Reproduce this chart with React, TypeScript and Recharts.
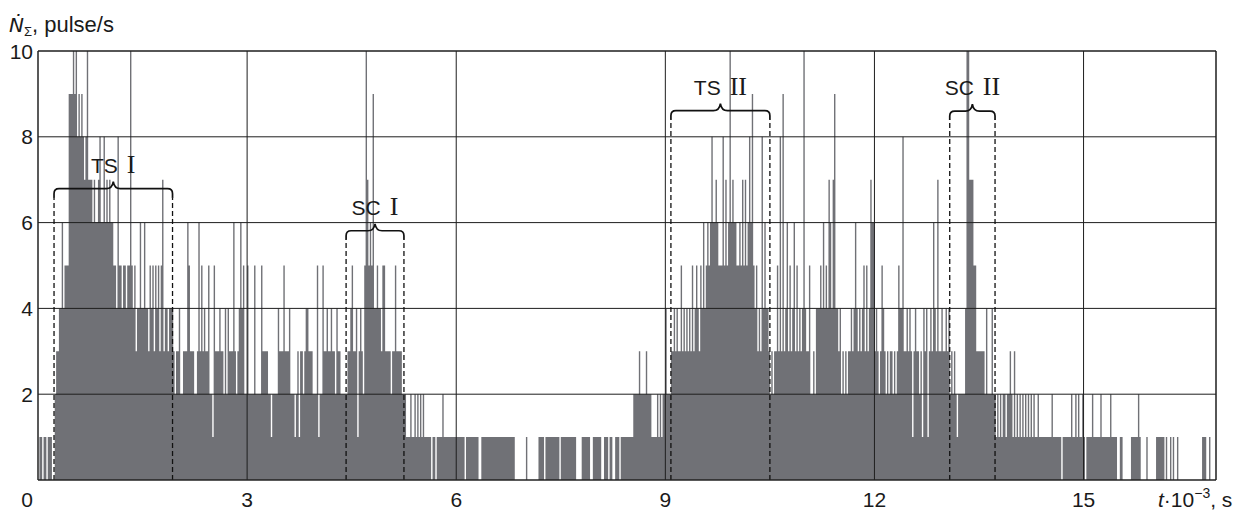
import React from "react";
import { AreaChart, Area, XAxis, YAxis, ReferenceLine } from "recharts";

// pulse counts, one value per 20 s bin (x axis is in units of 10^3 s)
const BIN = 0.02;
const T_END = 16.9;

const xTicks = [0, 3, 6, 9, 12, 15];
const yTicks = [2, 4, 6, 8, 10];

const seg00 = [0,1,1,0,1,1,0,1,1,1, 0,0,2,3,3,4,4,6,4,5, 5,5,9,9,9,10,9,10,8,9, 8,9,8,7,8,10,7,7,7,6, 7,6,6,7,8,6,6,8,6,7];
const seg01 = [6,7,6,6,5,5,4,8,5,5, 4,5,5,4,5,5,10,5,4,5, 3,4,4,6,4,4,6,4,4,3, 5,4,5,3,5,4,5,3,5,7, 3,4,4,3,4,4,4,3,2,3];
const seg02 = [3,4,2,2,3,3,3,6,5,3, 3,3,2,2,3,6,3,5,3,4, 3,3,5,2,2,1,5,3,3,3, 4,3,3,2,4,2,4,3,3,3, 6,3,2,3,4,6,4,5,2,2];
const seg03 = [5,2,2,2,2,5,2,2,2,2, 5,3,3,3,3,2,2,1,2,2, 2,2,4,3,3,3,5,3,3,3, 4,2,2,2,1,2,3,1,3,3, 2,3,4,4,3,3,3,2,2,2];
const seg04 = [5,1,2,2,5,3,3,4,3,3, 4,3,3,2,4,3,3,2,2,2, 2,2,3,3,4,5,3,3,4,1, 3,4,3,2,5,10,7,5,6,5, 9,4,4,5,4,4,3,5,5,3];
const seg05 = [3,3,3,2,3,3,5,3,3,3, 3,2,2,2,1,1,1,2,1,1, 2,1,2,1,2,1,2,1,1,1, 1,1,0,1,1,0,1,1,1,1, 2,1,1,1,1,1,1,1,1,1];
const seg06 = [1,1,1,1,1,1,0,1,1,1, 1,1,1,1,1,1,0,0,1,1, 1,1,1,1,1,1,1,1,1,1, 1,1,1,1,1,1,1,1,1,1, 1,1,0,0,0,0,0,0,0,0];
const seg07 = [1,0,0,0,0,0,0,0,0,1, 1,1,1,0,1,1,1,1,1,1, 1,1,1,1,0,1,1,1,1,1, 1,1,1,1,1,1,0,0,0,0, 1,1,1,1,1,1,0,0,1,1];
const seg08 = [1,1,1,1,0,0,1,1,1,0, 1,1,0,0,1,1,1,0,1,1, 1,1,1,1,1,1,1,2,2,2, 2,3,2,2,2,2,3,2,2,2, 1,1,1,1,2,1,2,1,2,2];
const seg09 = [4,2,2,2,3,3,4,3,4,3, 3,5,3,4,3,4,3,4,3,5, 3,4,5,4,3,5,4,6,4,5, 6,5,6,8,6,6,7,6,5,5, 5,8,5,7,5,6,10,6,7,6];
const seg10 = [6,5,5,6,5,7,5,7,5,6, 8,6,9,5,4,5,3,4,3,8, 4,6,4,4,3,2,3,2,3,3, 5,3,8,3,9,3,4,6,3,5, 3,4,6,3,5,3,4,3,4,10];
const seg11 = [4,3,3,5,2,2,3,2,4,4, 4,5,4,6,4,5,4,7,6,4, 7,9,4,4,3,4,2,3,2,3, 2,3,3,4,3,4,6,4,3,4, 3,4,5,3,5,3,4,7,6,6];
const seg12 = [3,4,3,2,3,5,4,3,2,3, 2,3,3,2,3,2,3,5,4,4, 8,3,3,4,3,4,3,1,3,4, 3,3,2,3,1,4,3,4,1,3, 4,3,6,4,3,7,3,3,4,3];
const seg13 = [3,4,3,4,2,3,2,3,2,1, 2,2,2,2,2,4,10,10,7,7, 7,5,5,3,3,3,3,3,3,2, 4,2,2,2,4,2,2,1,2,1, 2,1,2,2,1,2,2,3,2,1];
const seg14 = [3,1,2,1,2,1,2,1,2,1, 2,1,2,1,2,1,1,2,1,1, 1,1,1,1,1,1,1,2,1,1, 1,1,1,1,0,1,1,1,1,1, 1,2,1,1,2,1,2,1,1,2];
const seg15 = [1,0,1,1,1,1,2,1,1,1, 1,1,2,1,1,1,1,1,1,2, 1,1,1,1,0,0,1,1,0,0, 0,0,0,0,1,1,1,1,1,2, 1,0,0,0,0,1,0,0,0,0];
const seg16 = [0,0,1,1,1,1,1,1,0,1, 0,0,1,0,1,0,0,1,0,0, 0,0,0,0,0,0,0,0,0,0, 0,0,0,0,0,1,1,1,0,0, 1,0,0,0,0];

const counts = [
  ...seg00, ...seg01, ...seg02, ...seg03, ...seg04, ...seg05, ...seg06, ...seg07, ...seg08,
  ...seg09, ...seg10, ...seg11, ...seg12, ...seg13, ...seg14, ...seg15, ...seg16,
];

const data = counts.map((n, i) => ({ t: Math.round(i * BIN * 100) / 100, n }));
data.push({ t: T_END, n: 0 });

type Region = { tag: string; num: string; from: number; to: number; level: number };

const regions: Region[] = [
  { tag: "TS", num: "I", from: 0.23, to: 1.93, level: 6.79 },
  { tag: "SC", num: "I", from: 4.42, to: 5.25, level: 5.81 },
  { tag: "TS", num: "II", from: 9.08, to: 10.5, level: 8.61 },
  { tag: "SC", num: "II", from: 13.08, to: 13.73, level: 8.6 },
];

const SANS = "Liberation Sans, Arial, Helvetica, sans-serif";
const SERIF = "Liberation Serif, Times New Roman, serif";
const INK = "#1a1a1a";

const braceShape = (r: Region) => (p: any) => {
  const { x1, x2, y1: y } = p;
  const mid = (x1 + x2) / 2;
  const d =
    `M${x1},${y + 9} L${x1},${y + 5} Q${x1},${y} ${x1 + 5},${y} ` +
    `L${mid - 7},${y} Q${mid - 1},${y} ${mid},${y - 7} Q${mid + 1},${y} ${mid + 7},${y} ` +
    `L${x2 - 5},${y} Q${x2},${y} ${x2},${y + 5} L${x2},${y + 9}`;
  return (
    <g>
      <path d={d} fill="none" stroke="#111" strokeWidth={1.7} />
      <text
        x={mid}
        y={y - 16}
        textAnchor="middle"
        fill={INK}
        style={{ fontFamily: SANS, fontSize: 21 }}
      >
        {r.tag}
        <tspan dx={9} style={{ fontFamily: SERIF, fontSize: 26 }}>{r.num}</tspan>
      </text>
    </g>
  );
};

const XTick = ({ x, y, payload }: any) => (
  <text
    x={payload.value === 0 ? x - 11 : x}
    y={y + 26.5}
    textAnchor="middle"
    fontFamily={SANS}
    fontSize={21}
    fill={INK}
  >
    {payload.value}
  </text>
);

const YTick = ({ x, y, payload }: any) => (
  <text x={x - 5} y={y + 7.5} textAnchor="end" fontFamily={SANS} fontSize={21} fill={INK}>
    {payload.value}
  </text>
);

const YTitle = ({ viewBox }: any) => (
  <text x={viewBox.x + 9} y={viewBox.y - 19} fontFamily={SANS} fontSize={22} fill={INK}>
    <tspan fontStyle="italic" fontFamily="DejaVu Sans, Liberation Sans, sans-serif" fontSize={20}>Ṅ</tspan>
    <tspan fontSize={13} dy={4}>Σ</tspan>
    <tspan dy={-4}>, pulse/s</tspan>
  </text>
);

const XTitle = ({ viewBox }: any) => (
  <text x={viewBox.x + viewBox.width - 58} y={viewBox.y + 26.5} fontFamily={SANS} fontSize={21} fill={INK}>
    <tspan fontStyle="italic">t</tspan>
    <tspan>·10</tspan>
    <tspan fontSize={14} dy={-9}>−3</tspan>
    <tspan dy={9}>, s</tspan>
  </text>
);

export default function App() {
  return (
    <div style={{ position: "absolute", left: 0, top: 0, background: "#fff" }}>
      <AreaChart width={1253} height={511} data={data} margin={{ top: 51, right: 37, left: 0, bottom: 0 }}>
        <XAxis
          dataKey="t"
          type="number"
          domain={[0, T_END]}
          ticks={xTicks}
          interval={0}
          allowDataOverflow
          height={31}
          tickSize={0}
          tickMargin={0}
          tickLine={false}
          axisLine={{ stroke: "#222", strokeWidth: 1.5 }}
          tick={<XTick />}
          label={<XTitle />}
        />
        <YAxis
          type="number"
          domain={[0, 10]}
          ticks={yTicks}
          interval={0}
          allowDataOverflow
          width={38}
          tickSize={0}
          tickMargin={0}
          tickLine={false}
          axisLine={{ stroke: "#222", strokeWidth: 1.5 }}
          tick={<YTick />}
          label={<YTitle />}
        />
        <Area
          type="stepAfter"
          dataKey="n"
          stroke="none"
          fill="#707176"
          fillOpacity={1}
          dot={false}
          activeDot={false}
          isAnimationActive={false}
        />
        {yTicks.map((v) => (
          <ReferenceLine key={`gy${v}`} y={v} stroke="#1e1e1e" strokeWidth={v === 10 ? 1.5 : 1} />
        ))}
        {xTicks.filter((v) => v > 0).map((v) => (
          <ReferenceLine key={`gx${v}`} x={v} stroke="#1e1e1e" strokeWidth={1} />
        ))}
        <ReferenceLine x={T_END} stroke="#1e1e1e" strokeWidth={1.5} />
        {regions.map((r) => (
          <React.Fragment key={`${r.tag}${r.num}`}>
            <ReferenceLine
              segment={[{ x: r.from, y: 0 }, { x: r.from, y: r.level - 0.2 }]}
              stroke="#111"
              strokeWidth={1.3}
              strokeDasharray="5 3"
            />
            <ReferenceLine
              segment={[{ x: r.to, y: 0 }, { x: r.to, y: r.level - 0.2 }]}
              stroke="#111"
              strokeWidth={1.3}
              strokeDasharray="5 3"
            />
            <ReferenceLine
              segment={[{ x: r.from, y: r.level }, { x: r.to, y: r.level }]}
              shape={braceShape(r)}
            />
          </React.Fragment>
        ))}
      </AreaChart>
    </div>
  );
}
